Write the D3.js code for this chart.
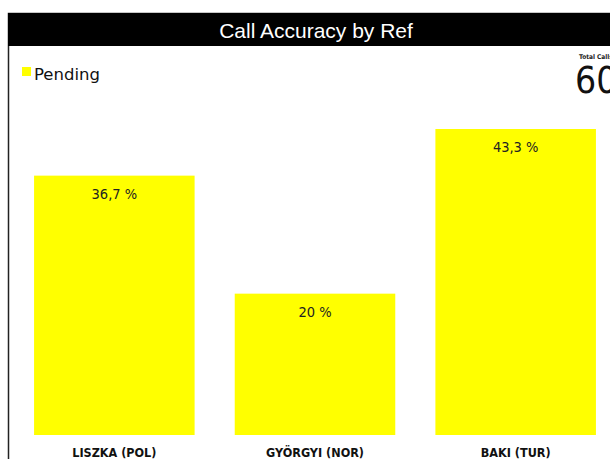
<!DOCTYPE html>
<html>
<head>
<meta charset="utf-8">
<script src="https://cdn.jsdelivr.net/npm/d3@7"></script>
<style>
  html, body { margin: 0; padding: 0; background: #fff; overflow: hidden; }
</style>
</head>
<body>
<div id="vis"></div>
<script>
// chart data
var categories = ["LISZKA (POL)", "GYÖRGYI (NOR)", "BAKI (TUR)"];
var pendingPct = [36.7, 20, 43.3];
var seriesName = "Pending";
var totalCalls = 60;

var width = 610, height = 459;

var svg = d3.select("#vis").append("svg")
    .attr("width", width)
    .attr("height", height);

// panel frame + title bar
svg.append("rect")
    .attr("x", 8.5).attr("y", 13.5)
    .attr("width", 616).attr("height", 470)
    .attr("fill", "#fff")
    .attr("stroke", "#222")
    .attr("stroke-width", 1.5);

svg.append("rect")
    .attr("x", 8).attr("y", 13)
    .attr("width", 620).attr("height", 33)
    .attr("fill", "#000");

svg.append("text")
    .attr("x", 316).attr("y", 38)
    .attr("text-anchor", "middle")
    .attr("fill", "#fff")
    .style("font-family", "'Liberation Sans', Arial, sans-serif")
    .style("font-size", "21px")
    .text("Call Accuracy by Ref");

// legend
svg.append("rect")
    .attr("x", 22).attr("y", 67)
    .attr("width", 9).attr("height", 9)
    .attr("fill", "#ffff00");
svg.append("text")
    .attr("x", 34).attr("y", 80)
    .attr("fill", "#111")
    .style("font-family", "'DejaVu Sans', sans-serif")
    .style("font-size", "16.5px")
    .text(seriesName);

// total calls card
svg.append("text")
    .attr("x", 579).attr("y", 59)
    .attr("fill", "#222")
    .style("font-family", "'DejaVu Sans Condensed', 'DejaVu Sans', sans-serif")
    .style("font-size", "6.5px")
    .style("font-weight", "bold")
    .text("Total Calls");
svg.append("text")
    .attr("x", 575).attr("y", 93)
    .attr("fill", "#111")
    .style("font-family", "'DejaVu Sans Condensed', 'DejaVu Sans', sans-serif")
    .style("font-size", "37px")
    .text(totalCalls);

// scales
var x = d3.scaleBand()
    .domain(categories)
    .range([14, 616])
    .paddingInner(0.2)
    .paddingOuter(0.1);

var y = d3.scaleLinear()
    .domain([0, d3.max(pendingPct)])
    .range([435, 129]);

var fmt = d3.formatLocale({decimal: ",", thousands: ".", grouping: [3], currency: ["", ""]}).format(".1~f");

var data = categories.map(function(c, i) { return {cat: c, val: pendingPct[i]}; });

// bars
svg.selectAll(".bar")
    .data(data)
    .enter()
    .append("rect")
    .attr("class", "bar")
    .attr("x", function(d) { return x(d.cat); })
    .attr("y", function(d) { return y(d.val); })
    .attr("width", x.bandwidth())
    .attr("height", function(d) { return y(0) - y(d.val); })
    .attr("fill", "#ffff00");

// value labels inside top of bar
svg.selectAll(".val")
    .data(data)
    .enter()
    .append("text")
    .attr("class", "val")
    .attr("x", function(d) { return x(d.cat) + x.bandwidth() / 2; })
    .attr("y", function(d) { return y(d.val) + 23; })
    .attr("text-anchor", "middle")
    .attr("fill", "#222")
    .style("font-family", "'DejaVu Sans Condensed', 'DejaVu Sans', sans-serif")
    .style("font-size", "14.5px")
    .text(function(d) { return fmt(d.val) + " %"; });

// x axis
var xAxis = svg.append("g")
    .attr("transform", "translate(0," + y(0) + ")")
    .call(d3.axisBottom(x).tickSize(0).tickPadding(13));
xAxis.select(".domain").remove();
xAxis.selectAll("text")
    .attr("fill", "#111")
    .style("font-family", "'DejaVu Sans Condensed', 'DejaVu Sans', sans-serif")
    .style("font-size", "12.5px")
    .style("font-weight", "bold");
</script>
</body>
</html>
